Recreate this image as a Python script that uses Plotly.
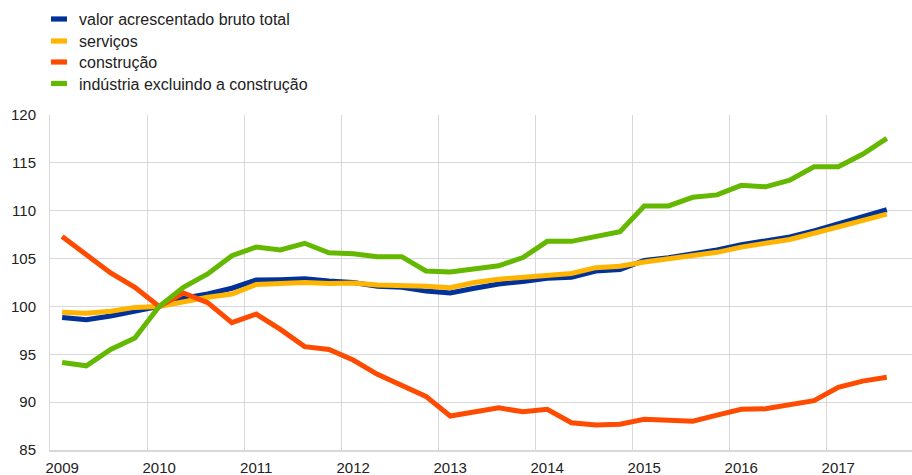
import plotly.graph_objects as go

years = ["2009", "2010", "2011", "2012", "2013", "2014", "2015", "2016", "2017"]
quarters = [f"{y}Q{q}" for y in range(2009, 2018) for q in range(1, 5)][:35]

total_gva = [98.85, 98.6, 99.0, 99.5, 100.0, 100.85, 101.3, 101.9, 102.75, 102.8,
             102.9, 102.65, 102.5, 102.1, 102.0, 101.6, 101.4, 101.9, 102.35, 102.6,
             102.95, 103.05, 103.7, 103.85, 104.8, 105.1, 105.5, 105.9, 106.45, 106.9,
             107.25, 107.9, 108.65, 109.4, 110.1]
services = [99.4, 99.3, 99.5, 99.9, 100.0, 100.5, 100.95, 101.3, 102.3, 102.4,
            102.5, 102.4, 102.45, 102.25, 102.2, 102.1, 101.95, 102.5, 102.85, 103.05,
            103.3, 103.45, 104.05, 104.2, 104.65, 104.95, 105.3, 105.65, 106.2, 106.65,
            107.0, 107.65, 108.3, 109.05, 109.65]
construction = [107.3, 105.4, 103.5, 102.0, 100.0, 101.4, 100.4, 98.3, 99.2, 97.6,
                95.8, 95.5, 94.4, 92.9, 91.7, 90.6, 88.55, 89.0, 89.4, 89.0,
                89.25, 87.85, 87.6, 87.7, 88.2, 88.1, 88.0, 88.65, 89.25, 89.3,
                89.7, 90.15, 91.55, 92.2, 92.6]
industry = [94.15, 93.8, 95.5, 96.7, 100.0, 102.0, 103.4, 105.3, 106.2, 105.9,
            106.6, 105.6, 105.5, 105.2, 105.2, 103.7, 103.6, 103.9, 104.25, 105.1,
            106.8, 106.8, 107.3, 107.8, 110.5, 110.5, 111.4, 111.65, 112.65, 112.5,
            113.2, 114.6, 114.6, 115.9, 117.55]

names = ["valor acrescentado bruto total", "serviços", "construção",
         "indústria excluindo a construção"]
colors = ["#003299", "#FFB400", "#FF4B00", "#65B800"]
series = [total_gva, services, construction, industry]

x = list(range(len(quarters)))

W, H = 912, 475
ML, MR, MT, MB = 50, 0, 115, 25
PW, PH = W - ML - MR, H - MT - MB


def px_x(p):
    return (p - ML) / PW


def px_y(p):
    return (H - MB - p) / PH


fig = go.Figure()
for nm, col, vals in zip(names, colors, series):
    fig.add_trace(go.Scatter(
        x=x, y=vals, mode="lines", name=nm,
        line=dict(color=col, width=5),
        showlegend=False,
        customdata=quarters,
        hovertemplate="%{customdata}: %{y}<extra>" + nm + "</extra>",
    ))

font_family = "Liberation Sans, Arial, sans-serif"

# legend drawn as swatches + text, top-left above the plot
row_centers = [19.0, 41.0, 62.0, 83.5]
shapes = []
annotations = []
for nm, col, cy in zip(names, colors, row_centers):
    shapes.append(dict(
        type="rect", xref="paper", yref="paper",
        x0=px_x(51), x1=px_x(67), y0=px_y(cy + 2.6), y1=px_y(cy - 2.6),
        fillcolor=col, line=dict(width=0), layer="above",
    ))
    annotations.append(dict(
        xref="paper", yref="paper", x=px_x(76.5), y=px_y(cy + 0.5),
        xanchor="left", yanchor="middle", showarrow=False,
        text=nm, font=dict(size=16, color="#222222", family=font_family),
    ))

fig.update_layout(
    width=W, height=H,
    margin=dict(l=ML, r=MR, t=MT, b=MB, autoexpand=False),
    paper_bgcolor="white", plot_bgcolor="white",
    font=dict(family=font_family, size=15, color="#222222"),
    showlegend=False,
    shapes=shapes,
    annotations=annotations,
    xaxis=dict(
        range=[-0.5, 35.04],
        tickmode="array",
        tickvals=[4 * k for k in range(len(years))],
        ticktext=years,
        showgrid=False,
        ticks="",
        ticklabelstandoff=3,
        tickfont=dict(size=15, color="#222222"),
        minor=dict(tickmode="array", tickvals=[4 * k - 0.5 for k in range(len(years))],
                   showgrid=True, gridcolor="#d9d9d9", gridwidth=1, ticks=""),
        showline=True, linecolor="#d9d9d9", linewidth=2,
        zeroline=False,
        fixedrange=True,
    ),
    yaxis=dict(
        range=[85, 120],
        tickmode="array",
        tickvals=[85, 90, 95, 100, 105, 110, 115, 120],
        showgrid=True, gridcolor="#d9d9d9", gridwidth=1,
        ticks="",
        ticklabelstandoff=10,
        tickfont=dict(size=15, color="#222222"),
        showline=True, linecolor="#d9d9d9", linewidth=1,
        zeroline=False,
        fixedrange=True,
    ),
)

fig.write_html("out.html", config={"displayModeBar": False},
               post_script="document.body.style.margin='0';")
